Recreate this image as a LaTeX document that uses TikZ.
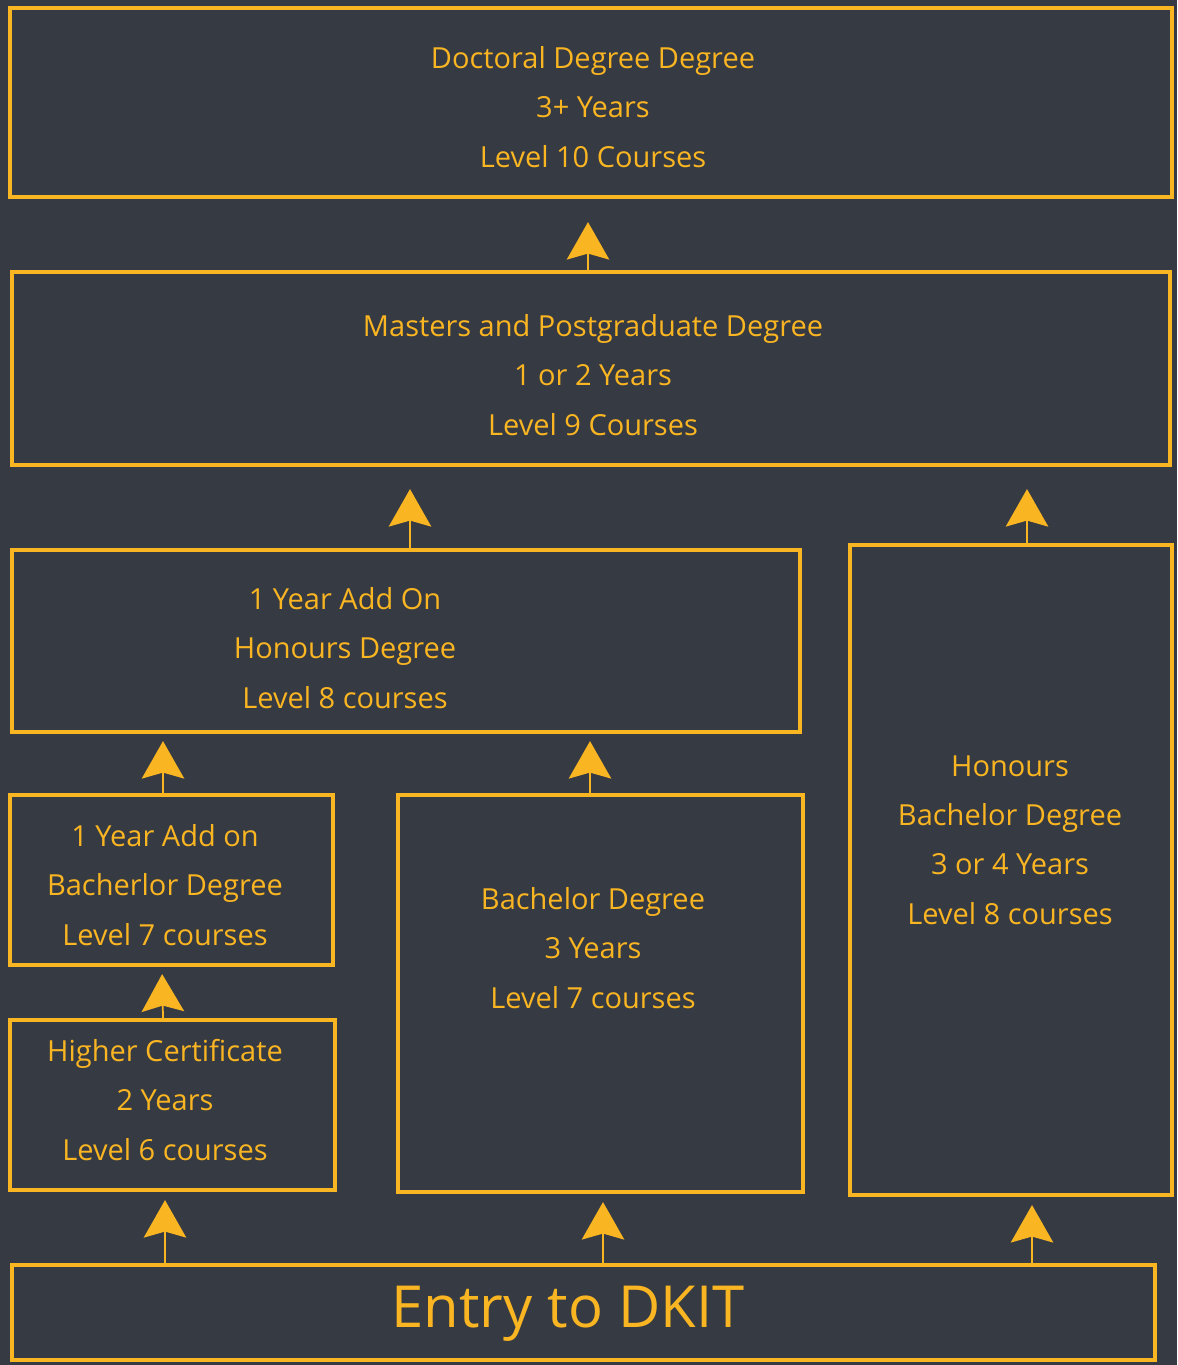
\documentclass[tikz,border=0pt]{standalone}
\usepackage{fontspec}
\setmainfont{Open Sans}
\usetikzlibrary{arrows.meta}
\definecolor{board}{RGB}{54,58,66}
\definecolor{chalk}{RGB}{250,181,34}
\begin{document}
\begin{tikzpicture}[x=0.02cm, y=-0.02cm]
\tikzstyle{box}=[draw=chalk, line width=2.4pt, fill=none, inner sep=0pt]
\tikzstyle{txt}=[draw=none, fill=none, text=chalk, align=center, font=\fontsize{16.5}{28}\selectfont]
\tikzstyle{up}=[draw=chalk, line width=1pt, -{Stealth[length=0.75cm, width=0.85cm, inset=0.12cm]}]

\fill[board] (0,0) rectangle (1177,1365);

% top row
\node[box, minimum width=23.24cm, minimum height=3.78cm] (doc) at (591,102.5) {};
\node[txt] (docT) at (593,107) {Doctoral Degree Degree\\3+ Years\\Level 10 Courses};

\node[box, minimum width=23.16cm, minimum height=3.86cm] (mast) at (591,368.5) {};
\node[txt] (mastT) at (593,375) {Masters and Postgraduate Degree\\1 or 2 Years\\Level 9 Courses};

% middle
\node[box, minimum width=15.76cm, minimum height=3.64cm] (aoh) at (406,641) {};
\node[txt] (aohT) at (345,648) {1 Year Add On\\Honours Degree\\Level 8 courses};

\node[box, minimum width=6.44cm, minimum height=13cm] (hb) at (1011,870) {};
\node[txt] (hbT) at (1010,840) {Honours\\Bachelor Degree\\3 or 4 Years\\Level 8 courses};

\node[box, minimum width=6.46cm, minimum height=3.4cm] (aob) at (171.5,880) {};
\node[txt] (aobT) at (165,885) {1 Year Add on\\Bacherlor Degree\\Level 7 courses};

\node[box, minimum width=6.5cm, minimum height=3.4cm] (hc) at (172.5,1105) {};
\node[txt] (hcT) at (165,1100) {Higher Certificate\\2 Years\\Level 6 courses};

\node[box, minimum width=8.1cm, minimum height=7.94cm] (bach) at (600.5,993.5) {};
\node[txt] (bachT) at (593,948) {Bachelor Degree\\3 Years\\Level 7 courses};

% entry
\node[box, minimum width=22.86cm, minimum height=1.9cm] (entry) at (583.5,1312.5) {};
\node[txt, font=\fontsize{33}{34}\selectfont] (entryT) at (568,1314) {Entry to DKIT};

\draw[up, shorten >=0.46cm] ([xshift=-0.06cm]mast.north) -- ([xshift=-0.06cm]doc.south);
\draw[up, shorten >=0.44cm] ([xshift=0.08cm]aoh.north) -- ([xshift=0.08cm]aoh.north |- mast.south);
\draw[up, shorten >=0.44cm] ([xshift=0.32cm]hb.north) -- ([xshift=0.32cm]hb.north |- mast.south);
\draw[up, shorten >=0.14cm] ([xshift=-0.17cm]aob.north) -- ([xshift=-0.17cm]aob.north |- aoh.south);
\draw[up, shorten >=0.14cm] ([xshift=-0.21cm]bach.north) -- ([xshift=-0.21cm]bach.north |- aoh.south);
\draw[up, shorten >=0.14cm] ([xshift=-0.19cm]hc.north) -- ([xshift=-0.19cm]aob.south);
\draw[up, shorten >=0.16cm] (entry.north -| hcT) -- (hc.south -| hcT);
\draw[up, shorten >=0.16cm] ([xshift=0.05cm]entry.north -| bach) -- ([xshift=0.05cm]bach.south);
\draw[up, shorten >=0.16cm] ([xshift=0.42cm]entry.north -| hb) -- ([xshift=0.42cm]hb.south);
\end{tikzpicture}
\end{document}
